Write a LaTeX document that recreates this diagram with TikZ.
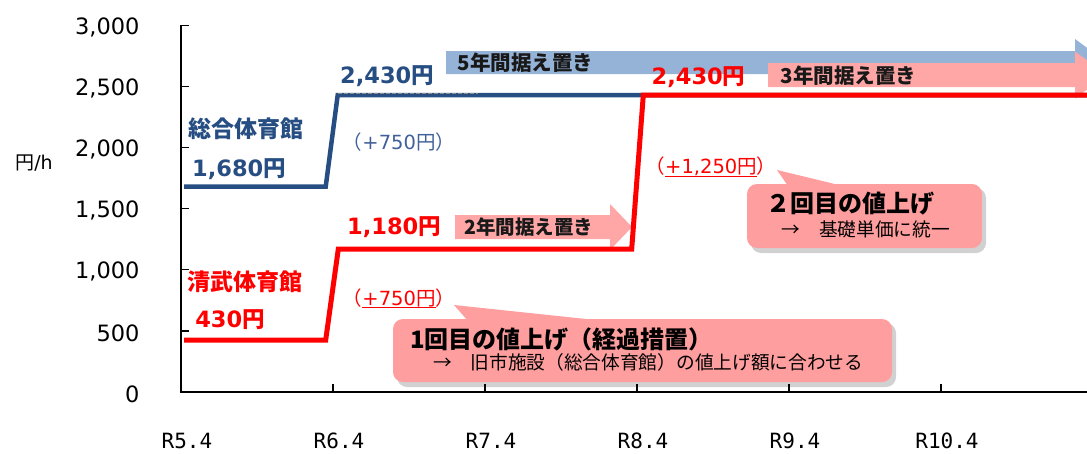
\documentclass[tikz,border=0pt]{standalone}
\usepackage{fontspec}
\setmainfont{DejaVu Sans}
\newfontfamily\jp{Noto Sans CJK JP}
\newfontfamily\xfont{DejaVu Sans Mono}
\definecolor{hallblue}{HTML}{264E82}
\definecolor{plusblue}{HTML}{40609A}
\definecolor{arrowblue}{HTML}{95B3D7}
\definecolor{arrowpink}{HTML}{FFA6A6}
\definecolor{callpink}{HTML}{FF9E9E}
\newcommand\redul[1]{\sbox0{#1}\rlap{\rule[-2.8pt]{\wd0}{1.2pt}}\usebox0}
\tikzset{
  ylab/.style={anchor=east, font=\fontsize{22.5}{25}\selectfont},
  xlab/.style={font=\xfont\fontsize{21}{24}\selectfont},
  price/.style={font=\bfseries\fontsize{22.5}{26}\selectfont},
  hall/.style={font=\jp\bfseries\fontsize{23}{26}\selectfont},
  plus/.style={font=\fontsize{19.5}{22}\selectfont},
  hold/.style={font=\jp\bfseries\fontsize{20.5}{24}\selectfont, text=black!90},
  note/.style={font=\jp\fontsize{18.7}{22}\selectfont, anchor=west, inner sep=0pt},
  head/.style={font=\jp\bfseries\fontsize{24}{27}\selectfont, anchor=west, inner sep=0pt},
  balloon/.style={fill=callpink},
  shadowbox/.style={fill=black!40, opacity=.45, rounded corners=10pt},
}
\begin{document}
\begin{tikzpicture}[x=1pt, y=-1pt]
\useasboundingbox (0,0) rectangle (1087,453);
\clip (0,0) rectangle (1087,453);

\fill[arrowblue] (446,51) -- (1075,51) -- (1075,39) -- (1107,62.5) -- (1075,86) -- (1075,74) -- (446,74) -- cycle;
\fill[arrowpink] (768,63) -- (1075,63) -- (1075,51.5) -- (1107,75) -- (1075,98.5) -- (1075,87) -- (768,87) -- cycle;
\fill[arrowpink] (455,215) -- (610,215) -- (610,204) -- (632,227) -- (610,250) -- (610,239) -- (455,239) -- cycle;

\node[hold] (hold5) at (525.5,63) {5年間据え置き};
\node[hold] (hold3) at (848.5,75.5) {3年間据え置き};
\node[hold, font=\jp\bfseries\fontsize{19.5}{23}\selectfont] (hold2) at (529,227) {2年間据え置き};

\draw[hallblue, line width=4.5pt] (184,186.7) -- (325.7,186.7) -- (337.7,95) -- (1095,95);
\draw[black!45, line width=1.2pt, dash pattern=on 4pt off 2pt] (338,93.5) -- (478,93.5);
\draw[red, line width=5pt] (184,340) -- (325.7,340) -- (338.3,249) -- (631.7,249) -- (643.3,95) -- (1095,95);

\node[hall, text=hallblue] (sogo) at (245.5,128.3) {総合体育館};
\node[price, text=hallblue] (sogo1) at (239,169.3) {1,680\jp 円};
\node[price, text=hallblue] (sogo2) at (387,76) {2,430\jp 円};
\node[plus, text=plusblue] (sogoup) at (399,141.7) {{\jp （}+750{\jp 円）}};

\node[hall, text=red] (kiyo) at (244.5,281.7) {清武体育館};
\node[price, text=red] (kiyo1) at (230,320) {430\jp 円};
\node[price, text=red] (kiyo2) at (394,227.3) {1,180\jp 円};
\node[price, text=red] (kiyo3) at (698.5,76.7) {2,430\jp 円};
\node[plus, text=red] (kiyoup1) at (399,298.3) {{\jp （}\redul{+750\jp 円}{\jp ）}};
\node[plus, text=red] (kiyoup2) at (711,167) {{\jp （}\redul{+1,250\jp 円}{\jp ）}};

\fill[shadowbox] (397,323) rectangle (896,387);
\fill[balloon, rounded corners=10pt] (393,319) rectangle (892,382);
\fill[balloon] (454,305) -- (468,321) -- (605,321) -- cycle;
\node[head] (first) at (410,339.3) {1回目の値上げ（経過措置）};
\node[note] (firstnote) at (433,362) {→　旧市施設（総合体育館）の値上げ額に合わせる};

\fill[shadowbox] (751,188) rectangle (986,253);
\fill[balloon, rounded corners=10pt] (747,184) rectangle (982,248);
\fill[balloon] (777,170) -- (788,186) -- (843,186) -- cycle;
\node[head] (second) at (766,203.3) {２回目の値上げ};
\node[note] (secondnote) at (781.5,229) {→　基礎単価に統一};

\node[font=\fontsize{19}{22}\selectfont] (unit) at (34,163.3) {{\jp 円}/h};
\draw[line width=1.3pt] (181,25.4) -- (181,392) -- (1090,392);
\foreach \v/\t in {0/0,500/500,1000/{1,000},1500/{1,500},2000/{2,000},2500/{2,500},3000/{3,000}}{
  \draw[line width=1.3pt] (181,{392-\v*0.12217}) -- (189,{392-\v*0.12217});
  \node[ylab] (y\v) at (143,{394-\v*0.12217}) {\t};
}
\foreach \i/\t in {0/R5.4,1/R6.4,2/R7.4,3/R8.4,4/R9.4,5/R10.4}{
  \ifnum\i>0 \draw[line width=1.3pt] ({181+152*\i},392) -- ({181+152*\i},384); \fi
  \node[xlab] (x\i) at ({187+152*\i},441) {\t};
}
\end{tikzpicture}
\end{document}
